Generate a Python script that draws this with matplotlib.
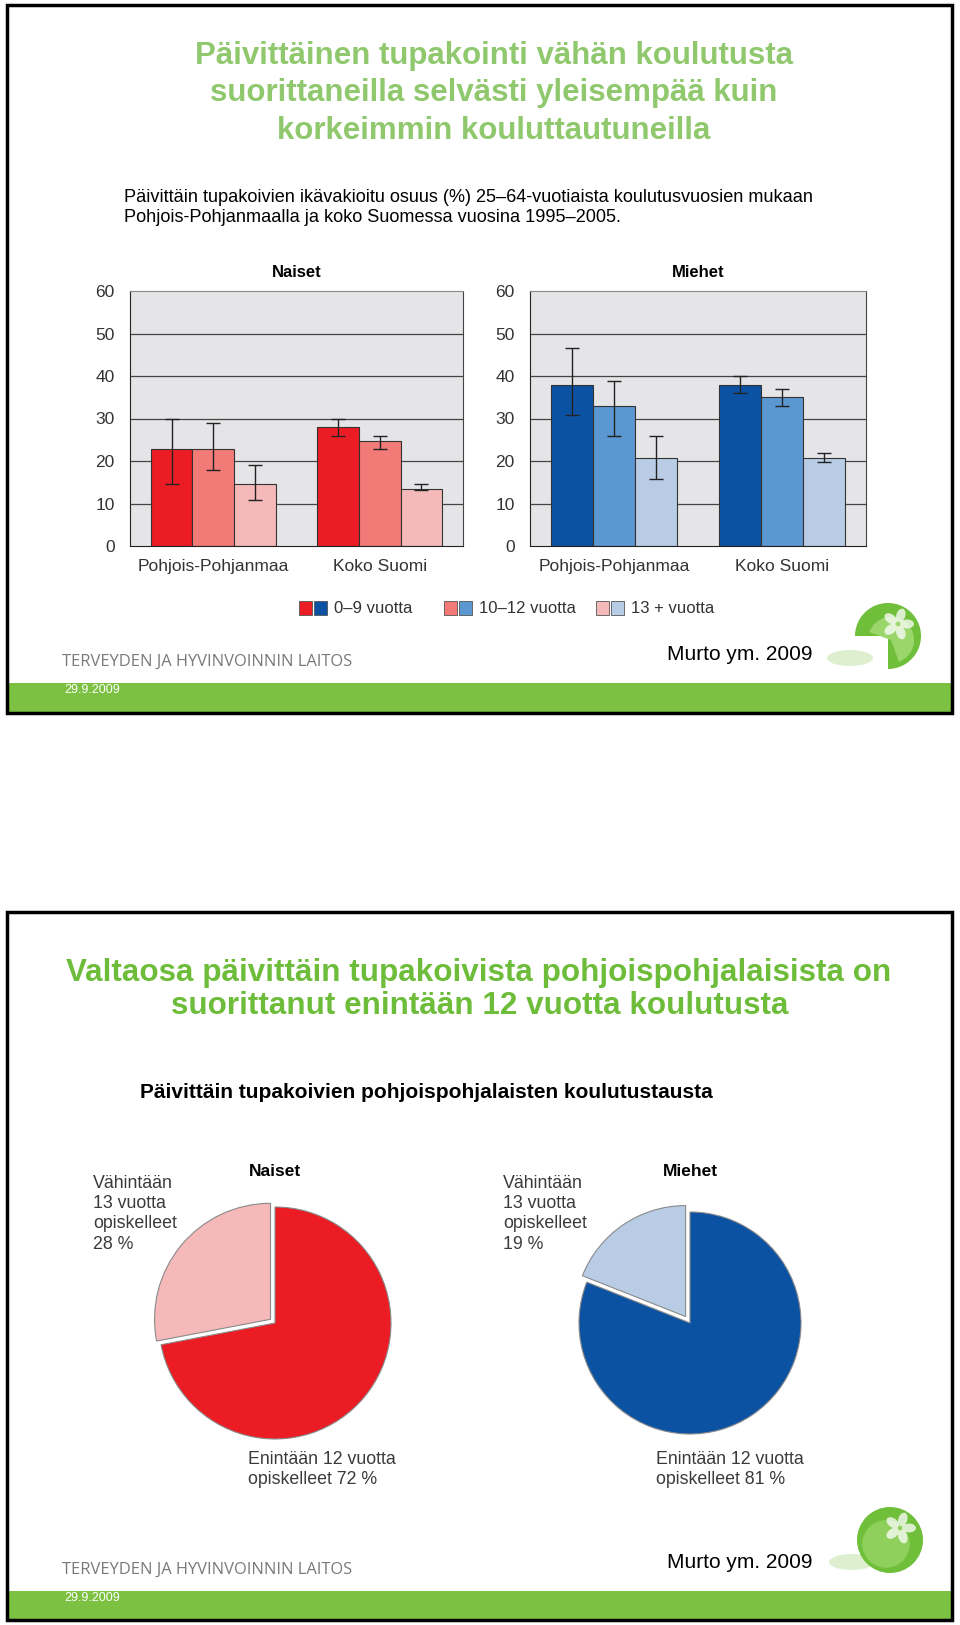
import numpy as np
import matplotlib
matplotlib.use('Agg')
import matplotlib.pyplot as plt
from matplotlib.patches import Rectangle, Ellipse, Circle, Wedge

plt.rcParams['font.family'] = ['Liberation Sans', 'DejaVu Sans']

W, H = 960, 1625

# --- data: slide 1 (bar charts) ---
regions = ['Pohjois-Pohjanmaa', 'Koko Suomi']
edu_groups = ['0–9 vuotta', '10–12 vuotta', '13 + vuotta']

naiset_pp = [22.9, 22.9, 14.7]
naiset_pp_low = [14.7, 17.9, 10.8]
naiset_pp_high = [29.8, 29.0, 19.0]
naiset_ks = [28.0, 24.7, 13.5]
naiset_ks_low = [25.8, 22.9, 13.2]
naiset_ks_high = [29.8, 25.8, 14.7]

miehet_pp = [37.8, 33.0, 20.8]
miehet_pp_low = [30.9, 25.8, 15.8]
miehet_pp_high = [46.7, 38.8, 25.8]
miehet_ks = [37.8, 35.0, 20.8]
miehet_ks_low = [35.9, 33.0, 19.7]
miehet_ks_high = [39.9, 37.0, 21.9]

y_ticks = [0, 10, 20, 30, 40, 50, 60]

# --- data: slide 2 (pies) ---
naiset_pie = [28, 72]
miehet_pie = [19, 81]
naiset_labels = ['Vähintään\n13 vuotta\nopiskelleet\n28 %', 'Enintään 12 vuotta\nopiskelleet 72 %']
miehet_labels = ['Vähintään\n13 vuotta\nopiskelleet\n19 %', 'Enintään 12 vuotta\nopiskelleet 81 %']

reds = ['#ec1c24', '#f27b78', '#f4b9b8']
blues = ['#0c52a3', '#5b97d1', '#b8cce6']
title_green1 = '#90c86e'
title_green2 = '#6dbd3b'
bar_green = '#7cc142'

fig = plt.figure(figsize=(W / 100, H / 100), dpi=100)

# overlay axes in pixel coordinates (y downwards)
bg = fig.add_axes([0, 0, 1, 1])
bg.set_xlim(0, W)
bg.set_ylim(H, 0)
bg.axis('off')


def px_axes(x0, y0, x1, y1):
    return fig.add_axes([x0 / W, 1 - y1 / H, (x1 - x0) / W, (y1 - y0) / H])


def draw_logo(cx, cy, r, bowl):
    bg.add_patch(Ellipse((cx - 38, cy + 22), 46, 16, color='#7cc142', alpha=0.25, lw=0))
    if bowl:
        bg.add_patch(Wedge((cx, cy), r, 180, 450, color='#6fbf3a', lw=0))
        bg.add_patch(Wedge((cx + 3, cy + 4), r * 0.7, 200, 430, color='#9bd66a', lw=0))
    else:
        bg.add_patch(Circle((cx, cy), r, color='#6fbf3a', lw=0))
        bg.add_patch(Circle((cx - 4, cy + 4), r * 0.72, color='#8fd05c', lw=0))
    for ang in [0, 72, 144, 216, 288]:
        a = np.deg2rad(ang)
        bg.add_patch(Ellipse((cx + 10 + 9 * np.cos(a), cy - 12 + 9 * np.sin(a)), 14, 9,
                             angle=ang, color='white', alpha=0.75, lw=0))


def slide_frame(y0, y1, bar_y0):
    bg.add_patch(Rectangle((7, y0), 945, y1 - y0, fill=False, ec='black', lw=2.5, zorder=5))
    bg.add_patch(Rectangle((8, bar_y0), 943, y1 - bar_y0 - 1, color=bar_green, lw=0))
    bg.text(64, bar_y0 + 7, '29.9.2009', color='white', fontsize=9, va='center')


# ---------- slide 1 ----------
slide_frame(5, 713, 683)
for y, line in zip([56, 93, 131], ['Päivittäinen tupakointi vähän koulutusta',
                                  'suorittaneilla selvästi yleisempää kuin',
                                  'korkeimmin kouluttautuneilla']):
    bg.text(494, y, line, color=title_green1, fontsize=22.5, fontweight='bold',
            ha='center', va='center')
bg.text(124, 198, 'Päivittäin tupakoivien ikävakioitu osuus (%) 25–64-vuotiaista koulutusvuosien mukaan',
        fontsize=13.1, va='center')
bg.text(124, 217, 'Pohjois-Pohjanmaalla ja koko Suomessa vuosina 1995–2005.', fontsize=13.1, va='center')


def bar_panel(ax, title, pp, pp_lo, pp_hi, ks, ks_lo, ks_hi, colors):
    ax.set_facecolor('#e5e5e7')
    x_pp = np.array([1, 2, 3])
    x_ks = np.array([5, 6, 7])
    for yv in y_ticks[1:-1]:
        ax.axhline(yv, color='#444444', lw=0.9, zorder=1)
    for xs, vals, lo, hi in [(x_pp, pp, pp_lo, pp_hi), (x_ks, ks, ks_lo, ks_hi)]:
        vals = np.array(vals)
        ax.bar(xs, vals, width=1.0, color=colors, edgecolor='#333333', lw=0.8, zorder=2)
        ax.errorbar(xs, vals, yerr=[vals - np.array(lo), np.array(hi) - vals], fmt='none',
                    ecolor='#222222', elinewidth=1, capsize=5, capthick=1, zorder=3)
    ax.set_xlim(0, 8)
    ax.set_ylim(0, 60)
    ax.set_yticks(y_ticks)
    ax.set_xticks([2, 6])
    ax.set_xticklabels(regions)
    ax.tick_params(length=0, labelsize=12.5, colors='#333333')
    ax.tick_params(axis='y', pad=11)
    ax.tick_params(axis='x', pad=9)
    for s in ['left', 'bottom']:
        ax.spines[s].set_color('#222222')
    ax.spines['right'].set_color('#444444')
    ax.spines['top'].set_color('#888888')
    ax.set_title(title, fontsize=12, fontweight='bold', pad=10)


ax_n = px_axes(130, 291, 463, 546)
bar_panel(ax_n, 'Naiset', naiset_pp, naiset_pp_low, naiset_pp_high,
          naiset_ks, naiset_ks_low, naiset_ks_high, reds)
ax_m = px_axes(530, 291, 866, 546)
bar_panel(ax_m, 'Miehet', miehet_pp, miehet_pp_low, miehet_pp_high,
          miehet_ks, miehet_ks_low, miehet_ks_high, blues)

# legend
for i, (lx, label) in enumerate(zip([299, 444, 596], edu_groups)):
    bg.add_patch(Rectangle((lx, 601), 13, 14, fc=reds[i], ec='#555555', lw=0.6))
    bg.add_patch(Rectangle((lx + 15, 601), 13, 14, fc=blues[i], ec='#555555', lw=0.6))
    bg.text(lx + 35, 608.5, label, fontsize=12, va='center', color='#333333')


def footer(y_txt, y_ref):
    bg.text(62, y_txt, 'TERVEYDEN JA HYVINVOINNIN LAITOS', fontsize=11.9, color='#7a7a7a',
            va='center', family=['Open Sans', 'Liberation Sans'])
    bg.text(667, y_ref, 'Murto ym. 2009', fontsize=15, va='center',
            family=['Liberation Sans Narrow', 'Liberation Sans'])


footer(662, 654)
draw_logo(888, 636, 33, True)

# ---------- slide 2 ----------
slide_frame(912, 1620, 1591)
bg.text(479, 973, 'Valtaosa päivittäin tupakoivista pohjoispohjalaisista on', color=title_green2,
        fontsize=22.6, fontweight='bold', ha='center', va='center')
bg.text(480, 1006, 'suorittanut enintään 12 vuotta koulutusta', color=title_green2,
        fontsize=22.6, fontweight='bold', ha='center', va='center')
bg.text(140, 1092, 'Päivittäin tupakoivien pohjoispohjalaisten koulutustausta', fontsize=15,
        fontweight='bold', va='center')


def pie_panel(cx, cy, r, vals, colors, explode, title, labels, lx_top, lx_bot):
    S = 130
    ax = px_axes(cx - S, cy - S, cx + S, cy + S)
    ax.pie(vals, colors=colors, startangle=90, explode=[explode, 0],
           wedgeprops=dict(edgecolor='#8a8a8a', lw=0.8))
    lim = S / r
    ax.set_xlim(-lim, lim)
    ax.set_ylim(-lim, lim)
    ax.set_aspect('equal')
    ax.axis('off')
    bg.text(cx, 1172, title, fontsize=12.5, fontweight='bold', ha='center', va='center')
    bg.text(lx_top, 1175, labels[0], fontsize=12.8, color='#3a3a3a', va='top', linespacing=1.25)
    bg.text(lx_bot, 1451, labels[1], fontsize=12.8, color='#3a3a3a', va='top', linespacing=1.25)


pie_panel(275, 1323, 116, naiset_pie, [reds[2], reds[0]], 0.05, 'Naiset', naiset_labels, 93, 248)
pie_panel(690, 1323, 111, miehet_pie, [blues[2], blues[0]], 0.07, 'Miehet', miehet_labels, 503, 656)

footer(1570, 1562)
draw_logo(890, 1540, 33, False)

fig.savefig('out.png', dpi=100)
